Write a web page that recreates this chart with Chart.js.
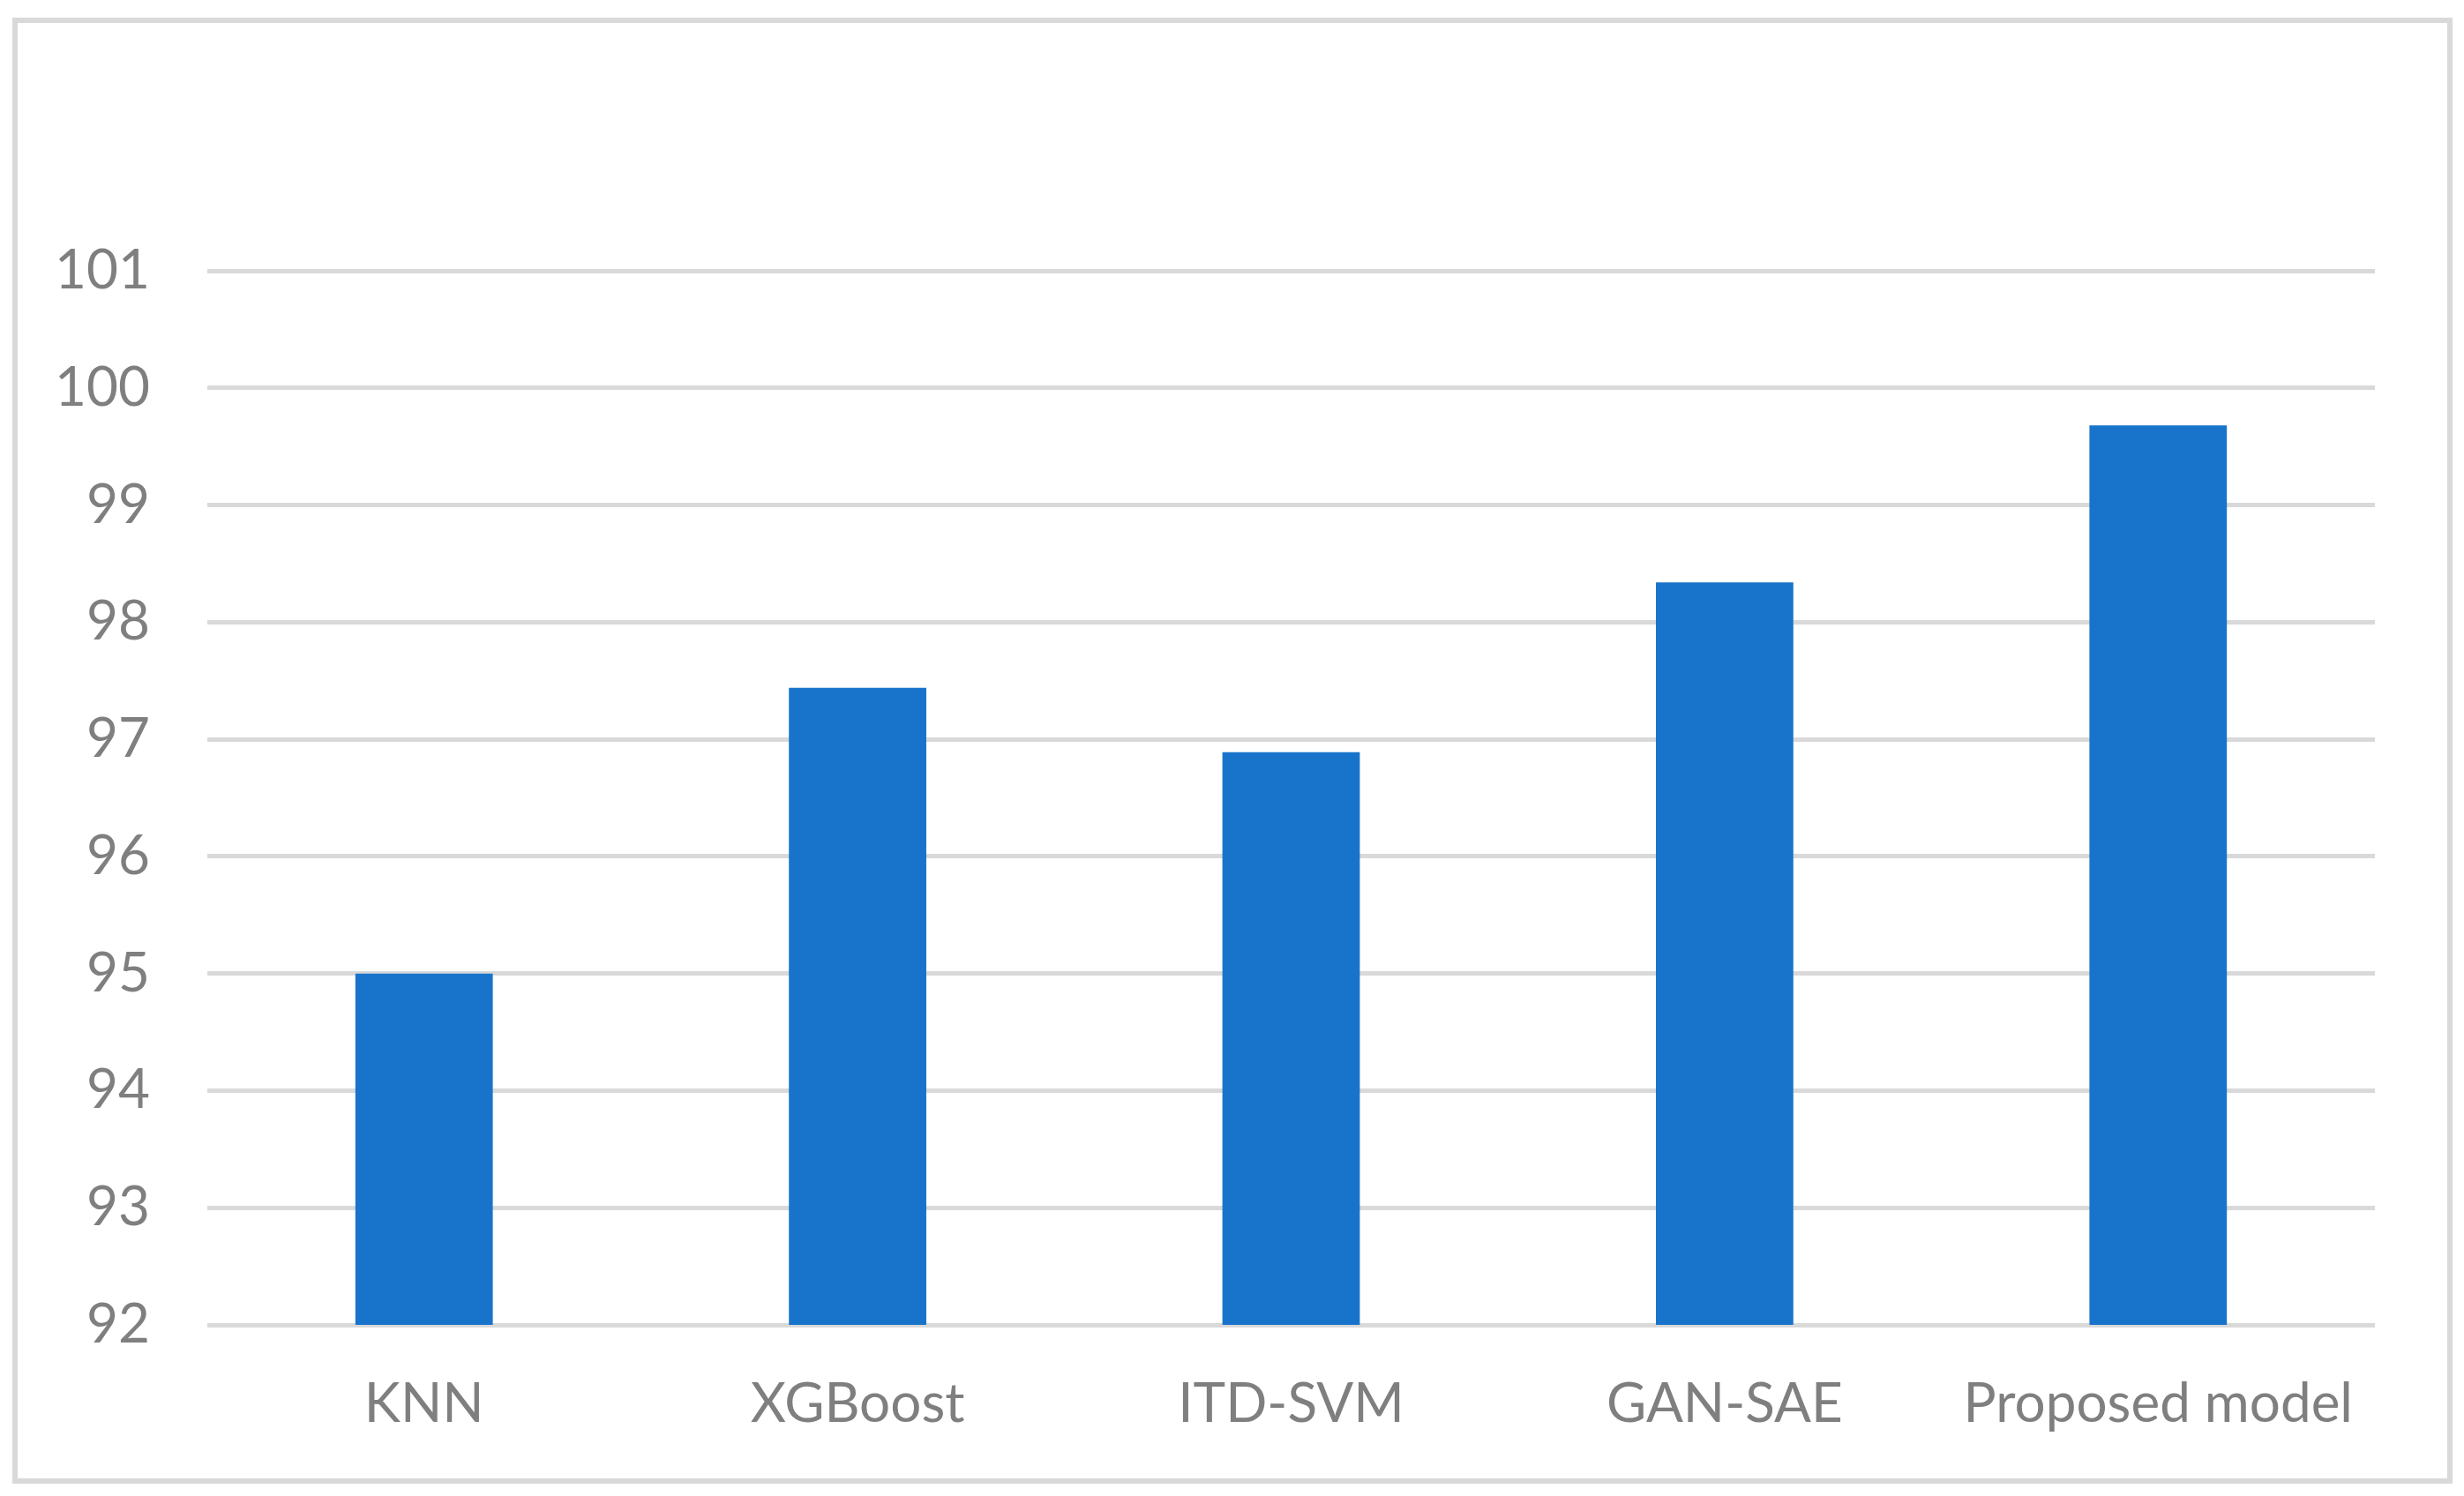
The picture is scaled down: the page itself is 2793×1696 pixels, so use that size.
<!DOCTYPE html>
<html>
<head>
<meta charset="utf-8">
<script src="https://cdn.jsdelivr.net/npm/chart.js@4/dist/chart.umd.min.js"></script>
<style>
  html, body { margin: 0; padding: 0; background: #ffffff; }
  #wrap { position: absolute; left: 0; top: 0; width: 2793px; height: 1696px; }
</style>
</head>
<body>
<div id="wrap"><canvas id="c" width="2793" height="1696"></canvas></div>
<script>
const categories = ["KNN", "XGBoost", "ITD-SVM", "GAN-SAE", "Proposed model"];
const accuracy = [95.0, 97.44, 96.89, 98.34, 99.68];
const yTickMin = 92;
const yTickMax = 101;
const yTickStep = 1;

const frame = {
  id: 'frame',
  beforeDraw(chart) {
    const ctx = chart.ctx;
    ctx.save();
    ctx.fillStyle = '#ffffff';
    ctx.fillRect(0, 0, chart.width, chart.height);
    ctx.strokeStyle = '#d9d9d9';
    ctx.lineWidth = 6;
    ctx.strokeRect(17, 23, 2760, 1656);
    ctx.restore();
  }
};

new Chart(document.getElementById('c'), {
  type: 'bar',
  data: {
    labels: categories,
    datasets: [{
      label: 'Accuracy',
      data: accuracy,
      backgroundColor: '#1874cb',
      borderWidth: 0,
      barPercentage: 0.317,
      categoryPercentage: 1.0
    }]
  },
  options: {
    responsive: false,
    animation: false,
    devicePixelRatio: 1,
    layout: { padding: { left: 0, right: 101, top: 307, bottom: 0 } },
    plugins: { legend: { display: false }, tooltip: { enabled: false }, title: { display: false } },
    scales: {
      x: {
        grid: { display: false, drawTicks: false },
        border: { display: false },
        ticks: {
          color: '#7f7f7f',
          font: { family: 'Lato', size: 62 },
          padding: 53,
          maxRotation: 0,
          autoSkip: false
        },
        afterFit(scale) { scale.height = 194; }
      },
      y: {
        min: yTickMin,
        max: yTickMax,
        grid: { color: '#d9d9d9', lineWidth: 5, drawTicks: false },
        border: { display: false },
        ticks: {
          stepSize: yTickStep,
          color: '#7f7f7f',
          font: { family: 'Lato', size: 62 },
          padding: 65
        },
        afterFit(scale) { scale.width = 235; }
      }
    }
  },
  plugins: [frame]
});
</script>
</body>
</html>
